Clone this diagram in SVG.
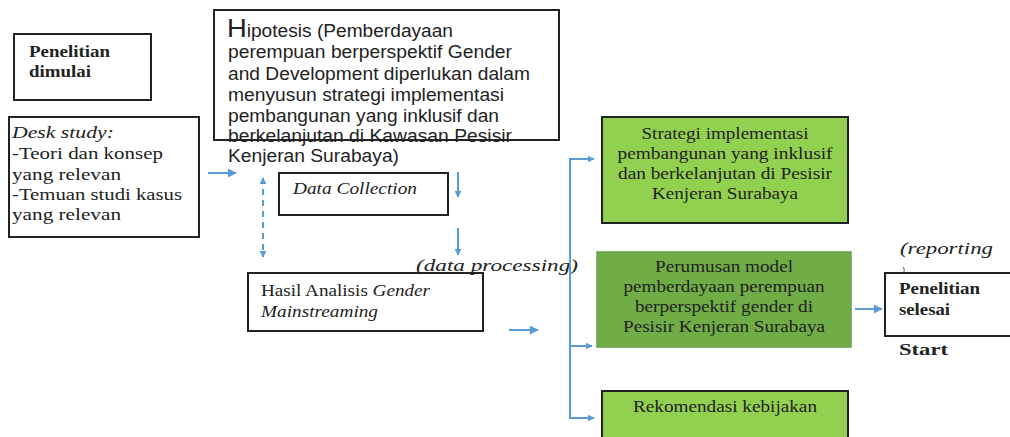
<svg xmlns="http://www.w3.org/2000/svg" width="1010" height="437" viewBox="0 0 1010 437">
<defs>
<marker id="ah" viewBox="0 0 10 10" refX="9" refY="5" markerWidth="7" markerHeight="7" markerUnits="userSpaceOnUse" orient="auto-start-reverse">
<path d="M0,0 L10,5 L0,10 z" fill="#5b9bd5"/>
</marker>
<marker id="ahl" viewBox="0 0 10 10" refX="9" refY="5" markerWidth="11" markerHeight="9" markerUnits="userSpaceOnUse" orient="auto">
<path d="M0,0 L10,5 L0,10 z" fill="#5b9bd5"/>
</marker>
</defs>
<style>
.box{fill:#fff;stroke:#222;stroke-width:2}
.g1{fill:#92d050;stroke:#222;stroke-width:2}
.g2{fill:#70ad47;stroke:#6a9f45;stroke-width:1.5}
.serif{font-family:"Liberation Serif","Times New Roman",serif;fill:#222;font-size:17.5px}
.sans{font-family:"Liberation Sans",Arial,sans-serif;fill:#222;font-size:17.5px}
.conn{stroke:#5b9bd5;stroke-width:2;fill:none}
</style>
<rect width="1010" height="437" fill="#fff"/>

<g id="start">
<rect class="box" x="14" y="34" width="137" height="66"/>
<text class="serif" font-size="16.5" font-weight="bold" x="29" y="57" textLength="81" lengthAdjust="spacingAndGlyphs">Penelitian</text>
<text class="serif" font-size="16.5" font-weight="bold" x="29" y="77" textLength="62" lengthAdjust="spacingAndGlyphs">dimulai</text>
</g>

<g id="desk">
<rect class="box" x="9" y="117" width="190" height="120"/>
<text class="serif" font-style="italic" x="12" y="138" textLength="102" lengthAdjust="spacingAndGlyphs">Desk study:</text>
<text class="serif" x="12" y="159" textLength="151" lengthAdjust="spacingAndGlyphs">-Teori dan konsep</text>
<text class="serif" x="12" y="180" textLength="109" lengthAdjust="spacingAndGlyphs">yang relevan</text>
<text class="serif" x="12" y="200" textLength="170" lengthAdjust="spacingAndGlyphs">-Temuan studi kasus</text>
<text class="serif" x="12" y="220" textLength="109" lengthAdjust="spacingAndGlyphs">yang relevan</text>
</g>

<g id="hipotesis">
<rect class="box" x="214" y="10" width="345" height="130"/>
<text class="sans" x="227" y="37" textLength="226" lengthAdjust="spacingAndGlyphs"><tspan font-size="25">H</tspan>ipotesis (Pemberdayaan</text>
<text class="sans" x="228" y="58" textLength="284" lengthAdjust="spacingAndGlyphs">perempuan berperspektif Gender</text>
<text class="sans" x="228" y="80" textLength="302" lengthAdjust="spacingAndGlyphs">and Development diperlukan dalam</text>
<text class="sans" x="228" y="101" textLength="276" lengthAdjust="spacingAndGlyphs">menyusun strategi implementasi</text>
<text class="sans" x="228" y="122" textLength="271" lengthAdjust="spacingAndGlyphs">pembangunan yang inklusif dan</text>
<text class="sans" x="228" y="142" textLength="284" lengthAdjust="spacingAndGlyphs">berkelanjutan di Kawasan Pesisir</text>
<text class="sans" x="228" y="162" textLength="171" lengthAdjust="spacingAndGlyphs">Kenjeran Surabaya)</text>
</g>

<g id="datacollection">
<rect class="box" x="279" y="173" width="169" height="42"/>
<text class="serif" font-style="italic" x="293" y="194" textLength="124" lengthAdjust="spacingAndGlyphs">Data Collection</text>
</g>

<g id="hasil">
<rect class="box" x="248" y="273" width="235" height="58"/>
<text class="serif" x="261" y="296" textLength="169" lengthAdjust="spacingAndGlyphs">Hasil Analisis <tspan font-style="italic">Gender</tspan></text>
<text class="serif" font-style="italic" x="261" y="317" textLength="117" lengthAdjust="spacingAndGlyphs">Mainstreaming</text>
</g>

<text class="serif" font-size="20.5" font-style="italic" x="416" y="271" textLength="162" lengthAdjust="spacingAndGlyphs">(data processing)</text>

<g id="strategi">
<rect class="g1" x="602" y="117" width="246" height="106"/>
<text class="serif" text-anchor="middle" x="725" y="139" textLength="167" lengthAdjust="spacingAndGlyphs">Strategi implementasi</text>
<text class="serif" text-anchor="middle" x="725" y="159" textLength="215" lengthAdjust="spacingAndGlyphs">pembangunan yang inklusif</text>
<text class="serif" text-anchor="middle" x="725" y="179" textLength="214" lengthAdjust="spacingAndGlyphs">dan berkelanjutan di Pesisir</text>
<text class="serif" text-anchor="middle" x="725" y="199" textLength="146" lengthAdjust="spacingAndGlyphs">Kenjeran Surabaya</text>
</g>

<g id="perumusan">
<rect class="g2" x="597" y="252" width="254" height="95"/>
<text class="serif" text-anchor="middle" x="724" y="272" textLength="138" lengthAdjust="spacingAndGlyphs">Perumusan model</text>
<text class="serif" text-anchor="middle" x="724" y="292" textLength="201" lengthAdjust="spacingAndGlyphs">pemberdayaan perempuan</text>
<text class="serif" text-anchor="middle" x="724" y="312" textLength="178" lengthAdjust="spacingAndGlyphs">berperspektif gender di</text>
<text class="serif" text-anchor="middle" x="724" y="332" textLength="202" lengthAdjust="spacingAndGlyphs">Pesisir Kenjeran Surabaya</text>
</g>

<g id="rekomendasi">
<rect class="g1" x="602" y="391" width="246" height="52"/>
<text class="serif" text-anchor="middle" x="725" y="412" textLength="184" lengthAdjust="spacingAndGlyphs">Rekomendasi kebijakan</text>
</g>

<g id="selesai">
<rect class="box" x="885" y="273" width="130" height="63"/>
<text class="serif" font-size="16.5" font-weight="bold" x="899" y="294" textLength="81" lengthAdjust="spacingAndGlyphs">Penelitian</text>
<text class="serif" font-size="16.5" font-weight="bold" x="899" y="315" textLength="51" lengthAdjust="spacingAndGlyphs">selesai</text>
</g>
<text class="serif" font-size="21" font-weight="bold" x="899" y="355" textLength="49" lengthAdjust="spacingAndGlyphs">Start</text>
<text class="serif" font-size="20" font-style="italic" x="900" y="254" textLength="93" lengthAdjust="spacingAndGlyphs">(reporting</text>
<path d="M903,267 q2,2 1,5" stroke="#555" stroke-width="1" fill="none"/>

<g id="connectors">
<line class="conn" x1="208" y1="173" x2="236" y2="173" marker-end="url(#ahl)"/>
<line class="conn" x1="263" y1="178" x2="263" y2="257" stroke-width="1.5" stroke-dasharray="6,5" marker-start="url(#ah)" marker-end="url(#ah)"/>
<line class="conn" x1="458" y1="172" x2="458" y2="197" stroke-width="1.5" marker-end="url(#ah)"/>
<line class="conn" x1="458" y1="228" x2="458" y2="255" stroke-width="1.5" marker-end="url(#ah)"/>
<line class="conn" x1="509" y1="330" x2="538" y2="330" marker-end="url(#ahl)"/>
<path class="conn" d="M594,159 H570 V418 H594" stroke-width="1.5" marker-start="url(#ah)" marker-end="url(#ah)"/>
<line class="conn" x1="570" y1="346" x2="592" y2="346" stroke-width="1.5" marker-end="url(#ah)"/>
<line class="conn" x1="855" y1="309" x2="882" y2="309" marker-end="url(#ahl)"/>
</g>
</svg>
